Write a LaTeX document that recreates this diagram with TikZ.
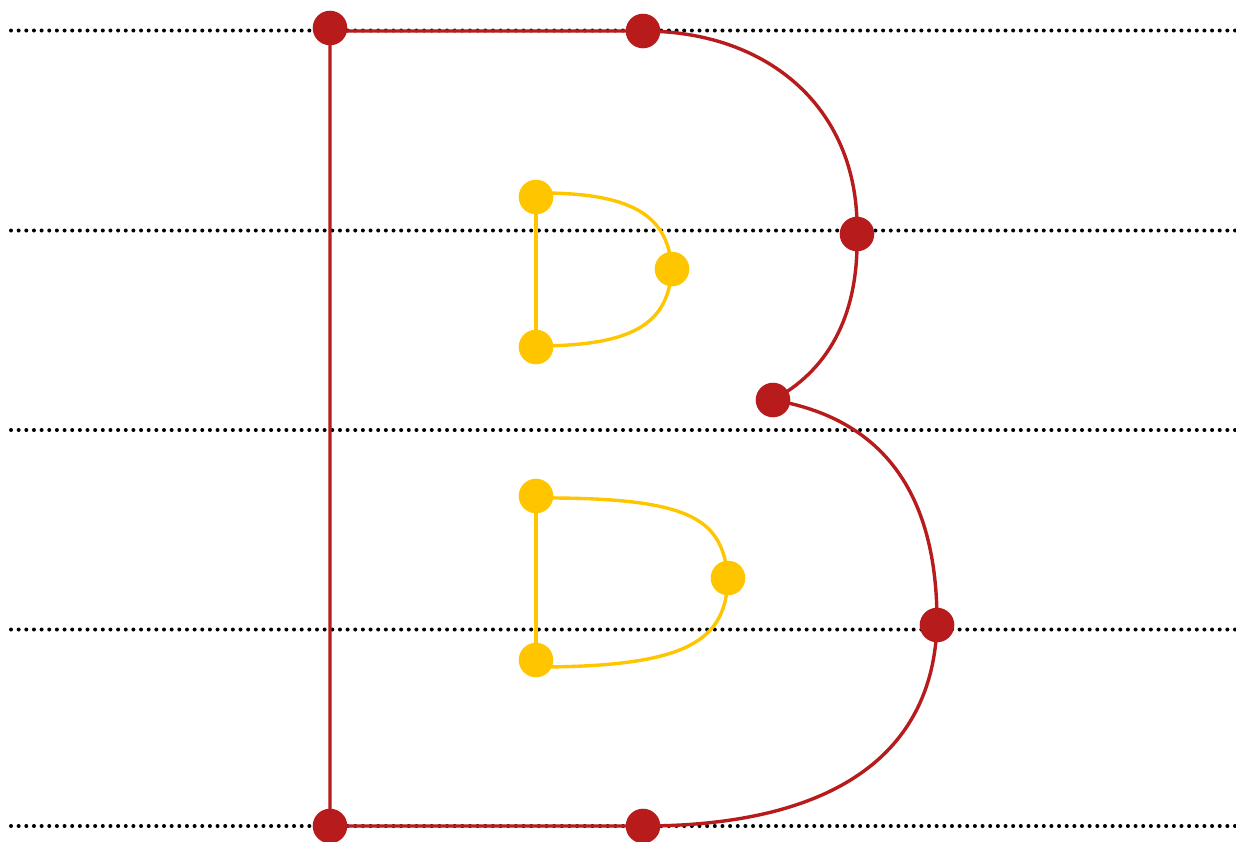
\documentclass[tikz,border=0pt]{standalone}
\usepackage{xcolor}
\usepackage{tikz}
\usetikzlibrary{calc}

\definecolor{bred}{RGB}{183,27,28}
\definecolor{byel}{RGB}{255,198,0}

\begin{document}
\begin{tikzpicture}[
  x=1pt, y=-1pt,
  guide/.style={line width=4pt, line cap=round, dash pattern=on 0pt off 7.65pt},
  outer/.style={bred, line width=3.4pt},
  inner/.style={byel, line width=3.4pt},
  rdot/.style={fill=bred},
  ydot/.style={fill=byel}
]
\useasboundingbox (0,0) rectangle (1236,841);
% guide lines
\foreach \y in {30.5,230.5,430,629.5,826}{\draw[guide] (11,\y) -- (1240,\y);}
% outer contour points
\coordinate (tl) at (330,28);
\coordinate (tm) at (643,31);
\coordinate (ur) at (857,234);
\coordinate (wst) at (773,400);
\coordinate (lr) at (937,625);
\coordinate (bm) at (643,826);
\coordinate (bl) at (330,826);
% upper counter points
\coordinate (ua) at (536,197);
\coordinate (ub) at (672,269);
\coordinate (uc) at (536,347);
% lower counter points
\coordinate (la) at (536,496);
\coordinate (lb) at (728,578);
\coordinate (lc) at (536,660);
% outer contour
\draw[outer] (bl) -- (tl) ++(0,3) -- (tm)
  .. controls (770,31) and (860,110) .. (ur)
  .. controls (859,320) and (825,372) .. (wst)
  .. controls (880,418) and (938,490) .. (lr)
  .. controls (932,770) and (810,826) .. (bm) -- (bl);
% upper counter
\draw[inner] (uc) -- (ua);
\draw[inner] (ua) ++(0,-4) .. controls (640,192) and (668,220) .. (ub)
  .. controls (668,320) and (640,346) .. ($(uc)+(0,-1)$);
% lower counter
\draw[inner] (lc) -- (la);
\draw[inner] (la) ++(0,2) .. controls (695,497) and (722,520) .. (lb)
  .. controls (726,640) and (690,667) .. ($(lc)+(0,7)$);
% points
\foreach \p in {tl,tm,ur,wst,lr,bm,bl}{\fill[rdot] (\p) circle (17.3);}
\foreach \p in {ua,ub,uc,la,lb,lc}{\fill[ydot] (\p) circle (17.3);}
\end{tikzpicture}
\end{document}
